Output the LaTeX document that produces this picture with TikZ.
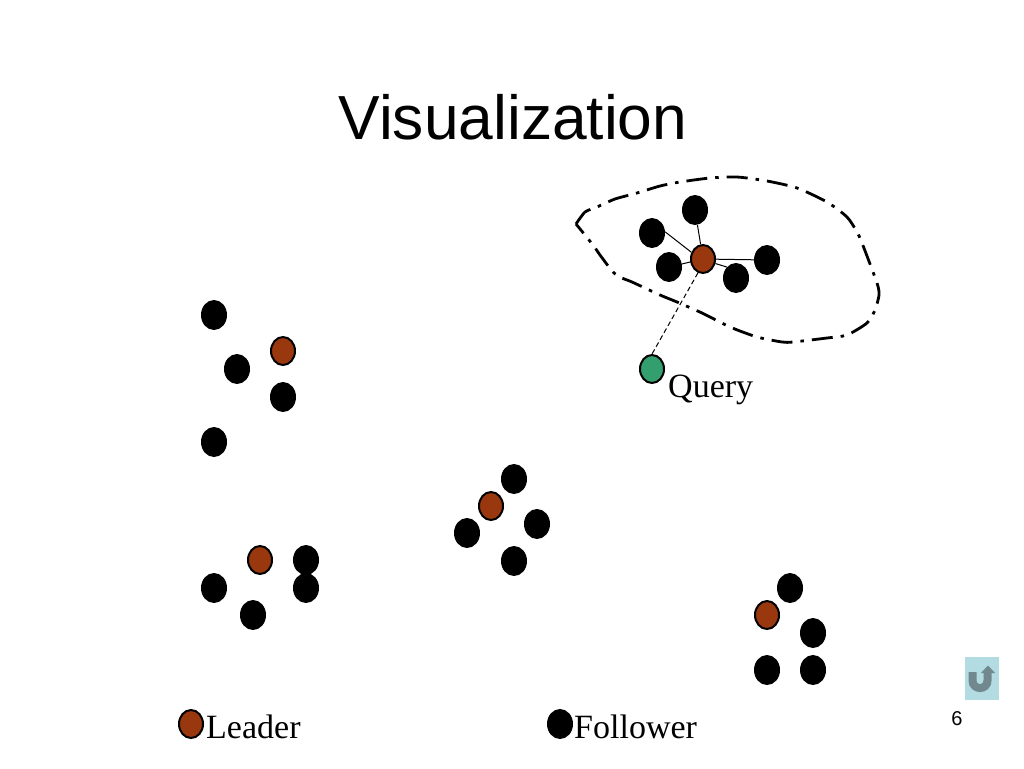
\documentclass[tikz,border=0pt]{standalone}
\usepackage{fontspec}
\setmainfont{Liberation Serif}
\newfontfamily\arialf{Liberation Sans}
\usetikzlibrary{shapes.geometric}
\definecolor{leadercol}{RGB}{153,56,14}
\definecolor{querycol}{RGB}{51,158,110}
\definecolor{iconbg}{RGB}{178,220,226}
\definecolor{iconfg}{RGB}{112,136,142}
\tikzset{
  dotnode/.style={ellipse,minimum width=26pt,minimum height=30pt,inner sep=0pt},
  follower/.style={dotnode,fill=black},
  leader/.style={dotnode,fill=leadercol,draw=black,line width=2pt,minimum width=24pt,minimum height=28pt},
  query/.style={dotnode,fill=querycol,draw=black,line width=2pt,minimum width=24pt,minimum height=28pt},
  label/.style={font=\fontsize{34}{38}\selectfont,anchor=base west,inner sep=0pt},
  link/.style={line width=1pt,draw=black},
  boundary/.style={line width=2.8pt,dash pattern=on 21pt off 8pt on 3.5pt off 8pt,line join=round}
}
\begin{document}
\begin{tikzpicture}[x=1pt,y=-1pt]
\useasboundingbox (0,0) rectangle (1024,768);
\node[font=\arialf\fontsize{62.3}{70}\selectfont,anchor=base,inner sep=0pt] (title) at (513,139) {Visualization};
% boundary
\draw[boundary] plot[smooth,tension=0.4] coordinates {(576,224) (585,212) (597,207) (615,199) (637,193) (660,186) (680,182) (710,178) (737,177) (767,181) (797,188) (827,202) (847,217) (857,232) (862,243) (877,283) (879,295) (875,310) (867,323) (847,335) (827,338) (793,342) (782,342) (757,337) (730,327) (702,313) (677,302) (660,295) (632,282) (622,278) (613,272) (600,255) (593,245) (576,224)};
% top cluster
\node[follower] (t1) at (695,210) {};
\node[follower] (t2) at (652,233) {};
\node[follower] (t3) at (669,267) {};
\node[follower] (t4) at (736,278) {};
\node[follower] (t5) at (767,260) {};
\node[leader] (tl) at (703,259) {};
\node[query] (q) at (652,369) {};
\draw[link] (t1) -- (tl);
\draw[link] (t2.5) -- (tl.150);
\draw[link] (t3) -- (tl);
\draw[link] (t4.130) -- (tl.-20);
\draw[link] (t5) -- (tl);
\draw[line width=1pt,dash pattern=on 5pt off 3pt] (tl.250) -- (q.north);
\node[label] (qt) at (668,397) {Query};
% left-top cluster
\node[follower] (a1) at (214,315) {};
\node[follower] (a2) at (237,369) {};
\node[leader] (a3) at (283,351) {};
\node[follower] (a4) at (283,397) {};
\node[follower] (a5) at (214,442) {};
% left-bottom cluster
\node[leader] (b1) at (260,560) {};
\node[follower] (b2) at (306,560) {};
\node[follower] (b3) at (306,588) {};
\node[follower] (b4) at (214,588) {};
\node[follower] (b5) at (253,615) {};
% middle cluster
\node[follower] (c1) at (514,479) {};
\node[leader] (c2) at (491,506) {};
\node[follower] (c3) at (467,533) {};
\node[follower] (c4) at (537,524) {};
\node[follower] (c5) at (514,561) {};
% right cluster
\node[follower] (d1) at (790,588) {};
\node[leader] (d2) at (767,615) {};
\node[follower] (d3) at (813,633) {};
\node[follower] (d4) at (767,670) {};
\node[follower] (d5) at (813,670) {};
% legend
\node[leader] (ll) at (191,724) {};
\node[label] (lt) at (206,738) {Leader};
\node[follower] (fl) at (560,724) {};
\node[label] (ft) at (574,738) {Follower};
% page number and icon
\node[font=\arialf\fontsize{20}{24}\selectfont,anchor=base,inner sep=0pt] (pg) at (957,725) {6};
\fill[iconbg] (965,657) rectangle (999,700);
\draw[iconfg,line width=8pt] (972.5,672) -- (972.5,680.5) .. controls (972.5,690.5) and (987.5,690.5) .. (987.5,680.5) -- (987.5,671);
\fill[iconfg] (981,673) -- (988,665.5) -- (995,673) -- cycle;
\end{tikzpicture}
\end{document}
